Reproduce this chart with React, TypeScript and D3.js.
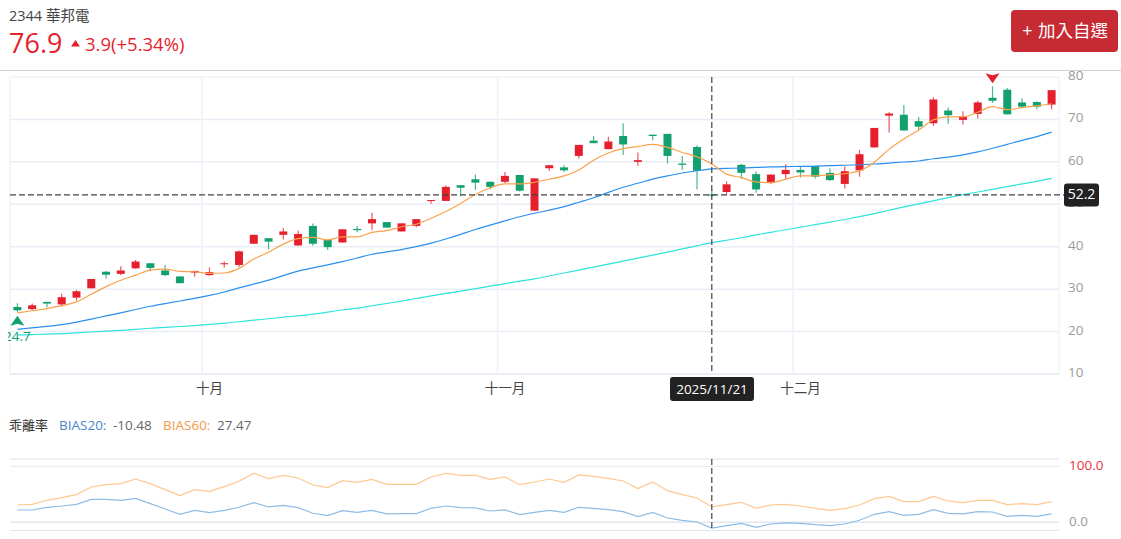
import * as d3 from 'd3';
import React from 'react';

const opens = [25.8, 25.3, 27.0, 26.4, 28.0, 30.2, 34.1, 33.6, 34.9, 36.1, 34.4, 33.0, 33.9, 33.3, 35.9, 35.7, 40.7, 42.0, 42.8, 40.3, 44.9, 41.6, 41.0, 44.2, 45.5, 45.8, 43.6, 44.9, 50.8, 50.8, 54.5, 55.9, 55.3, 55.3, 56.9, 48.5, 58.5, 58.7, 61.4, 65.0, 63.0, 66.1, 60.0, 66.4, 66.6, 59.6, 63.5, 52.3, 52.9, 59.3, 57.1, 55.1, 57.1, 58.1, 59.0, 57.4, 54.8, 58.0, 63.4, 70.9, 71.1, 69.6, 69.1, 72.1, 69.9, 71.3, 75.1, 77.0, 74.0, 74.1, 73.5];
const closes = [25.0, 26.2, 26.6, 28.1, 29.5, 32.4, 33.4, 34.4, 36.5, 35.0, 33.3, 31.4, 34.3, 34.0, 36.1, 38.9, 42.8, 41.2, 43.6, 43.0, 40.7, 39.9, 44.1, 43.9, 46.5, 44.5, 45.5, 46.5, 51.0, 54.1, 53.9, 55.1, 54.1, 56.7, 53.2, 56.1, 59.2, 58.0, 64.0, 64.4, 64.8, 64.1, 60.4, 66.1, 61.4, 59.3, 57.9, 52.2, 54.7, 57.4, 53.5, 57.0, 58.1, 57.5, 56.5, 55.7, 57.8, 61.8, 68.0, 71.4, 67.4, 68.3, 74.7, 71.0, 70.7, 74.0, 74.4, 71.2, 73.0, 73.0, 76.9];
const highs = [26.7, 26.6, 27.0, 28.9, 29.8, 32.4, 34.3, 35.4, 36.9, 36.1, 35.7, 33.0, 34.3, 35.1, 36.5, 39.1, 42.8, 42.0, 44.4, 43.8, 45.5, 41.6, 44.1, 44.9, 48.0, 45.8, 45.5, 46.5, 51.0, 54.5, 54.5, 57.0, 55.3, 57.6, 56.9, 56.1, 59.2, 59.2, 64.0, 66.1, 65.9, 69.1, 62.2, 66.4, 66.6, 61.4, 63.9, 53.4, 55.4, 59.5, 57.8, 57.0, 59.5, 58.9, 59.0, 58.5, 58.9, 62.8, 68.0, 71.7, 73.4, 70.6, 75.2, 72.8, 71.9, 74.4, 77.8, 77.4, 75.0, 74.3, 76.9];
const lows = [24.7, 24.9, 25.7, 25.9, 27.3, 30.2, 32.5, 33.3, 34.8, 34.3, 33.1, 31.4, 32.9, 33.2, 35.1, 35.2, 40.7, 39.4, 41.7, 40.2, 40.2, 39.2, 41.0, 43.4, 43.9, 44.5, 43.6, 44.6, 50.1, 50.8, 51.9, 53.4, 53.5, 55.0, 53.0, 48.5, 57.9, 57.6, 60.8, 64.4, 63.0, 61.6, 59.1, 65.1, 59.6, 58.1, 53.5, 51.8, 52.3, 56.0, 52.7, 54.7, 55.8, 56.3, 56.1, 55.5, 53.7, 56.5, 63.4, 66.9, 67.4, 67.4, 68.5, 69.0, 68.8, 70.2, 73.9, 71.2, 72.9, 72.4, 72.4];

const ma5 = [24.4, 24.9, 25.4, 26.1, 27.0, 28.8, 30.6, 32.1, 33.3, 34.5, 34.7, 34.2, 34.1, 33.7, 33.8, 34.9, 37.1, 38.7, 40.6, 41.9, 42.2, 41.6, 42.3, 42.3, 43.4, 43.8, 44.7, 45.3, 46.7, 48.3, 50.2, 52.3, 53.9, 54.8, 54.8, 55.2, 55.9, 56.7, 58.1, 60.4, 62.1, 63.1, 63.6, 64.1, 63.4, 62.2, 61.2, 59.5, 57.1, 56.3, 55.3, 55.1, 55.9, 56.7, 56.7, 57.0, 57.2, 57.9, 59.9, 63.0, 65.4, 67.5, 69.9, 70.6, 70.6, 71.7, 73.0, 72.3, 72.8, 73.2, 73.7];
const ma20 = [20.5, 20.9, 21.2, 21.6, 22.2, 22.9, 23.7, 24.4, 25.2, 26.0, 26.6, 27.2, 27.8, 28.5, 29.3, 30.3, 31.2, 32.1, 33.2, 34.3, 35.0, 35.7, 36.5, 37.3, 38.3, 38.8, 39.3, 40.0, 40.8, 41.8, 42.9, 44.1, 45.1, 46.1, 47.1, 47.9, 48.6, 49.4, 50.5, 51.5, 52.8, 54.1, 54.9, 56.0, 56.7, 57.4, 57.9, 58.4, 58.5, 58.5, 58.7, 58.8, 58.9, 58.9, 59.0, 59.1, 59.2, 59.3, 59.5, 59.7, 60.0, 60.1, 60.8, 61.1, 61.6, 62.3, 63.2, 64.1, 65.1, 65.9, 67.0];
const ma60 = [19.2, 19.3, 19.4, 19.5, 19.7, 19.9, 20.1, 20.3, 20.5, 20.8, 21.0, 21.2, 21.4, 21.7, 22.0, 22.3, 22.7, 23.0, 23.4, 23.7, 24.1, 24.6, 25.1, 25.5, 26.1, 26.6, 27.2, 27.8, 28.4, 29.0, 29.5, 30.1, 30.7, 31.3, 31.9, 32.4, 33.1, 33.8, 34.5, 35.2, 35.9, 36.6, 37.3, 38.0, 38.7, 39.5, 40.2, 41.0, 41.5, 42.1, 42.8, 43.4, 44.0, 44.6, 45.2, 45.8, 46.4, 47.1, 47.8, 48.6, 49.4, 50.1, 50.8, 51.6, 52.3, 52.9, 53.5, 54.2, 54.8, 55.4, 56.1];
const bias20 = [22.0, 22.0, 26.8, 29.1, 32.1, 41.0, 41.0, 39.3, 42.8, 33.3, 23.8, 14.3, 21.4, 17.2, 21.4, 26.8, 35.1, 27.4, 30.3, 26.2, 16.1, 11.9, 20.8, 17.8, 21.4, 14.9, 15.5, 15.5, 25.0, 29.1, 26.2, 25.6, 20.2, 22.0, 13.7, 17.8, 21.4, 17.8, 26.8, 25.0, 22.6, 19.0, 10.1, 17.8, 7.7, 3.6, 0.6, -10.48, -6.0, -1.8, -8.9, -3.0, -1.2, -1.8, -4.2, -6.0, -3.0, 3.6, 14.3, 19.0, 12.5, 14.3, 22.6, 16.0, 14.9, 19.0, 18.4, 10.7, 12.5, 10.7, 14.9];
const bias60 = [30.9, 32.1, 39.3, 44.0, 49.4, 63.1, 67.2, 69.0, 77.3, 69.0, 58.3, 47.6, 58.3, 55.3, 63.6, 73.2, 87.4, 77.9, 83.9, 79.1, 66.6, 61.9, 74.4, 71.4, 76.7, 67.8, 67.8, 67.8, 80.9, 87.5, 83.9, 83.9, 76.7, 80.9, 67.2, 72.0, 77.3, 71.4, 84.5, 82.1, 78.5, 73.8, 60.1, 72.0, 56.5, 49.4, 43.4, 27.47, 31.5, 35.7, 25.0, 30.9, 32.1, 29.1, 25.0, 21.4, 24.4, 30.9, 42.2, 46.4, 36.9, 36.9, 46.4, 38.1, 35.1, 39.2, 39.2, 31.5, 33.3, 31.5, 36.9];

const priceTicks = [10, 20, 30, 40, 50, 60, 70, 80];
const months = [{ index: 13, label: '十月' }, { index: 33, label: '十一月' }, { index: 53, label: '十二月' }];
const biasTicks = [0, 100];

const crossIndex = 47;
const crossValue = 52.2;
const crossDate = '2025/11/21';
const lowIndex = 0;
const highIndex = 66;

const RED = '#e61f2d';
const GREEN = '#12a06c';
const GRID = '#e9edf5';
const FONT = '"Open Sans", "Noto Sans CJK TC", sans-serif';

const x = d3.scaleBand<number>().domain(d3.range(opens.length)).range([10, 1059]);
const y = d3.scaleLinear().domain([10, 80]).range([374, 77]);
const yBias = d3.scaleLinear().domain([0, 100]).range([522.3, 466.3]);
const cx = (i: number) => (x(i) as number) + x.bandwidth() / 2;

const maLine = d3.line<number>().x((_, i) => cx(i)).y((d) => y(d)).curve(d3.curveMonotoneX);
const slowLine = d3.line<number>().x((_, i) => cx(i)).y((d) => y(d)).curve(d3.curveBasis);
const biasLine = d3.line<number>().x((_, i) => cx(i)).y((d) => yBias(d));

export default function App() {
    const crossX = cx(crossIndex);
    const crossY = y(crossValue);
    const lowX = cx(lowIndex);
    const highX = cx(highIndex);
    return (
        <div style={{ position: 'absolute', left: 0, top: 0, width: 1121, height: 539, overflow: 'hidden' }}>
            <svg width={1121} height={539} style={{ display: 'block', fontFamily: FONT }}>
                <defs>
                    <clipPath id="plot"><rect x={8} y={60} width={1060} height={320} /></clipPath>
                </defs>

                {/* header */}
                <text x={9} y={21} fontSize={14.5} fill="#444">2344 華邦電</text>
                <text x={9} y={53} fontSize={27} fill={RED}>76.9</text>
                <path d="M71,46.5 L75.5,40 L80,46.5 Z" fill={RED} />
                <text x={85} y={51} fontSize={18.5} fill={RED}>3.9(+5.34%)</text>
                <rect x={1011} y={10} width={107} height={42} rx={4} fill="#c62a32" />
                <text x={1027.5} y={37} fontSize={18} fill="#fff" textAnchor="middle">+</text>
                <text x={1038} y={37} fontSize={17.5} fill="#fff">加入自選</text>
                <line x1={0} x2={1121} y1={70.5} y2={70.5} stroke="#cfcfd4" />

                {/* price grid */}
                {priceTicks.map((t) => (
                    <line key={t} x1={10} x2={1059} y1={y(t)} y2={y(t)} stroke={t === 10 ? '#d5dce8' : GRID} strokeWidth={t === 10 || t === 80 ? 1 : 1.5} />
                ))}
                {months.map((m) => (
                    <line key={m.label} x1={x(m.index)} x2={x(m.index)} y1={77} y2={374} stroke="#f0f1f5" strokeWidth={1.5} />
                ))}
                <line x1={10} x2={10} y1={77} y2={374} stroke="#eceef4" />
                <line x1={1059} x2={1059} y1={77} y2={374} stroke="#eceef4" />

                {priceTicks.map((t) => (
                    <text key={t} x={1068} y={y(t) + 3} fontSize={13.5} fill="#9a9a9a">{t}</text>
                ))}
                {months.map((m) => (
                    <text key={m.label} x={cx(m.index)} y={393} fontSize={13.5} fill="#444" textAnchor="middle">{m.label}</text>
                ))}

                {/* candles */}
                {opens.map((o, i) => {
                    const c = closes[i];
                    const col = c >= o ? RED : GREEN;
                    const top = y(Math.max(o, c));
                    const bottom = y(Math.min(o, c));
                    return (
                        <g key={i}>
                            <line x1={cx(i)} x2={cx(i)} y1={y(highs[i])} y2={y(lows[i])} stroke={col} strokeWidth={1.2} opacity={0.75} />
                            <rect x={cx(i) - 4} y={top} width={8} height={Math.max(bottom - top, 1)} fill={col} />
                        </g>
                    );
                })}

                {/* moving averages */}
                <path d={slowLine(ma60) as string} fill="none" stroke="#2fe3dc" strokeWidth={1.2} />
                <path d={slowLine(ma20) as string} fill="none" stroke="#2b8fee" strokeWidth={1.2} />
                <path d={maLine(ma5) as string} fill="none" stroke="#f9a24c" strokeWidth={1.2} />

                {/* high and low markers */}
                <g clipPath="url(#plot)">
                    <path d={`M${lowX},${y(lows[lowIndex]) + 4} l7,10 l-7,-2 l-7,2 Z`} fill={GREEN} />
                    <text x={lowX} y={341} fontSize={13.5} fill={GREEN} textAnchor="middle">{lows[lowIndex]}</text>
                </g>
                <path d={`M${highX},${y(highs[highIndex]) - 3} l7,-10 l-7,2 l-7,-2 Z`} fill={RED} />

                {/* crosshair */}
                <line x1={10} x2={1064} y1={crossY} y2={crossY} stroke="#444" strokeWidth={1.2} strokeDasharray="6 3" />
                <line x1={crossX} x2={crossX} y1={77} y2={374} stroke="#444" strokeWidth={1.2} strokeDasharray="6 3" />
                <rect x={1064} y={crossY - 11.5} width={35} height={23} rx={3} fill="#222" />
                <text x={1081.5} y={crossY + 4.5} fontSize={14} fill="#fff" textAnchor="middle">{crossValue}</text>
                <rect x={670} y={377} width={84} height={24} rx={3} fill="#222" />
                <text x={712} y={393.5} fontSize={13.5} fontWeight={500} fill="#fff" textAnchor="middle">{crossDate}</text>

                {/* bias pane */}
                <text x={9} y={430} fontSize={13} fill="#333">乖離率</text>
                <text x={59} y={430} fontSize={13.5} fill="#4a86c8">BIAS20:</text>
                <text x={113} y={430} fontSize={13.5} fill="#666">{bias20[crossIndex]}</text>
                <text x={163} y={430} fontSize={13.5} fill="#f59a45">BIAS60:</text>
                <text x={217} y={430} fontSize={13.5} fill="#666">{bias60[crossIndex]}</text>

                <line x1={10} x2={1059} y1={459} y2={459} stroke="#eef0f6" strokeWidth={2} />
                <line x1={10} x2={1059} y1={yBias(100)} y2={yBias(100)} stroke="#e4e9f5" />
                <line x1={10} x2={1059} y1={yBias(0)} y2={yBias(0)} stroke="#e3e6ee" strokeWidth={1.5} />
                <line x1={10} x2={1059} y1={530.5} y2={530.5} stroke="#e0e6f2" />
                {biasTicks.map((t) => (
                    <text key={t} x={1069} y={yBias(t) + 4} fontSize={13.5} fill={t === 100 ? '#e8333f' : '#9a9a9a'}>{t.toFixed(1)}</text>
                ))}
                <path d={biasLine(bias60) as string} fill="none" stroke="#ffc88f" strokeWidth={1.2} />
                <path d={biasLine(bias20) as string} fill="none" stroke="#8dbde6" strokeWidth={1.2} />
                <line x1={crossX} x2={crossX} y1={459} y2={530} stroke="#444" strokeWidth={1.2} strokeDasharray="6 3" />
            </svg>
        </div>
    );
}
